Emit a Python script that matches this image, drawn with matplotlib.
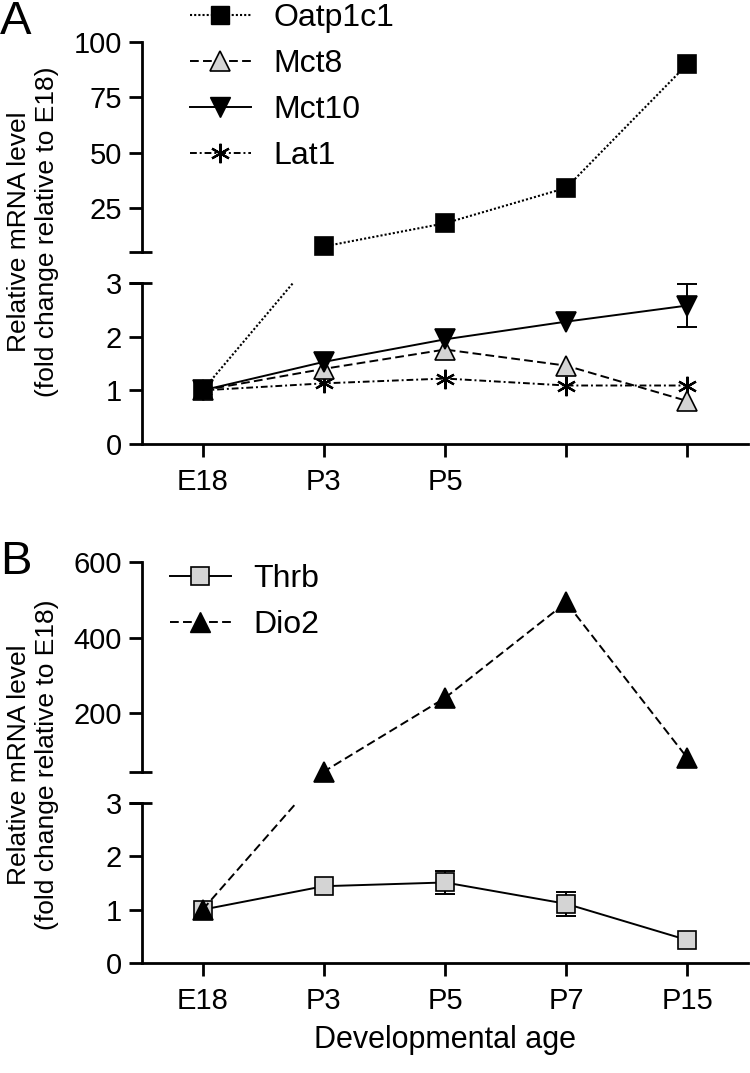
import numpy as np
import matplotlib.pyplot as plt
from matplotlib.lines import Line2D

plt.rcParams['font.family'] = ['Liberation Sans', 'DejaVu Sans']

# developmental ages
ages = ['E18', 'P3', 'P5', 'P7', 'P15']
ages_a = ['E18', 'P3', 'P5', '', '']

# panel A - transporters (fold change relative to E18)
oatp1c1 = [1.0, 7.5, 18.0, 34.0, 90.0]
mct8 = [1.0, 1.40, 1.76, 1.46, 0.80]
mct10 = [1.0, 1.53, 1.95, 2.28, 2.58]
mct10_err = [0, 0, 0, 0, 0.40]
lat1 = [1.0, 1.13, 1.22, 1.09, 1.09]

# panel B
thrb = [1.0, 1.44, 1.51, 1.11, 0.43]
thrb_err = [0, 0, 0.22, 0.23, 0]
dio2 = [1.0, 45.0, 240.0, 493.0, 81.0]

W, H = 750, 1073
fig = plt.figure(figsize=(W / 100, H / 100), dpi=100)


def px_axes(top, bottom, left=142, right=748):
    return fig.add_axes([left / W, 1 - bottom / H, (right - left) / W, (bottom - top) / H])


def style_axes(ax, upper):
    ax.set_xlim(-0.5, 4.5)
    ax.spines['top'].set_visible(False)
    ax.spines['right'].set_visible(False)
    ax.spines['left'].set_linewidth(2)
    ax.tick_params(axis='y', direction='out', length=9.5, width=2, pad=5, labelsize=21)
    if upper:
        ax.spines['bottom'].set_visible(False)
        ax.set_xticks([])
        # cap at the bottom of the upper segment
        ax.plot([-0.022, 0.017], [0, 0], transform=ax.transAxes, color='black', lw=2,
                clip_on=False, solid_capstyle='butt')
    else:
        ax.spines['bottom'].set_linewidth(2)
        ax.tick_params(axis='x', direction='out', length=9.5, width=2, pad=8, labelsize=21)
        ax.set_xticks(range(len(ages)))
        # cap at the top of the lower segment
        ax.plot([-0.022, 0.017], [1, 1], transform=ax.transAxes, color='black', lw=2,
                clip_on=False, solid_capstyle='butt')


def plot_broken(ax_lo, ax_hi, y, ls, marker, mfc, ms, z, lw=1.4, err=None, mew=1.2):
    # line drawn straight across the break (like GraphPad), markers on their own segment
    x = np.arange(len(y), dtype=float)
    y = np.asarray(y, dtype=float)
    in_lo = y <= ax_lo.get_ylim()[1]
    pts = np.column_stack([x, y])
    disp = np.where(in_lo[:, None], ax_lo.transData.transform(pts), ax_hi.transData.transform(pts))
    for ax, mask in ((ax_lo, in_lo), (ax_hi, ~in_lo)):
        yy = ax.transData.inverted().transform(disp)[:, 1]
        ax.plot(x, yy, ls=ls, color='black', lw=lw, zorder=z)
        if err is not None and ax is ax_lo:
            e = np.asarray(err, dtype=float)
            m = mask & (e > 0)
            ax.errorbar(x[m], y[m], yerr=e[m], fmt='none', ecolor='black', elinewidth=1.4,
                        capsize=7, capthick=1.4, zorder=z - 0.2)
        ax.plot(x[mask], y[mask], ls='none', marker=marker, mfc=mfc, mec='black', ms=ms,
                mew=mew, clip_on=False, zorder=z + 0.5)


grey = '#d4d4d4'
dotted = (0, (1, 1))
dashed = (0, (4.5, 2.2))
dashdot = (0, (3.5, 1.5, 1, 1.5))

# ---------------- panel A ----------------
a_hi = px_axes(42, 252)
a_lo = px_axes(283, 444)
a_hi.set_ylim(5, 100)
a_hi.set_yticks([25, 50, 75, 100])
a_lo.set_ylim(0, 3)
a_lo.set_yticks([0, 1, 2, 3])
style_axes(a_hi, True)
style_axes(a_lo, False)
a_lo.set_xticklabels(ages_a)

plot_broken(a_lo, a_hi, lat1, dashdot, (6, 2, 0), 'black', 14, 3, mew=1.6)
plot_broken(a_lo, a_hi, mct8, dashed, '^', grey, 14, 4)
plot_broken(a_lo, a_hi, mct10, '-', 'v', 'black', 14, 5, err=mct10_err)
plot_broken(a_lo, a_hi, oatp1c1, dotted, 's', 'black', 13.5, 6, lw=1.5)

handles_a = [
    Line2D([], [], color='black', ls=dotted, lw=1.5, marker='s', mfc='black', mec='black', ms=13.5),
    Line2D([], [], color='black', ls=dashed, lw=1.4, marker='^', mfc=grey, mec='black', ms=14, mew=1.2),
    Line2D([], [], color='black', ls='-', lw=1.4, marker='v', mfc='black', mec='black', ms=14),
    Line2D([], [], color='black', ls=dashdot, lw=1.4, marker=(6, 2, 0), mec='black', ms=14, mew=1.6),
]
fig.legend(handles_a, ['Oatp1c1', 'Mct8', 'Mct10', 'Lat1'], loc='upper left',
           bbox_to_anchor=(190 / W, 1 - 3 / H), frameon=False, fontsize=23, numpoints=1,
           handlelength=1.9, handletextpad=0.7, labelspacing=0.5, borderpad=0,
           borderaxespad=0)

# ---------------- panel B ----------------
b_hi = px_axes(562, 772)
b_lo = px_axes(803, 963)
b_hi.set_ylim(44, 600)
b_hi.set_yticks([200, 400, 600])
b_lo.set_ylim(0, 3)
b_lo.set_yticks([0, 1, 2, 3])
style_axes(b_hi, True)
style_axes(b_lo, False)
b_lo.set_xticklabels(ages)

plot_broken(b_lo, b_hi, thrb, '-', 's', grey, 12.5, 3, err=thrb_err)
plot_broken(b_lo, b_hi, dio2, dashed, '^', 'black', 14, 5)

handles_b = [
    Line2D([], [], color='black', ls='-', lw=1.4, marker='s', mfc=grey, mec='black', ms=12.5, mew=1.2),
    Line2D([], [], color='black', ls=dashed, lw=1.4, marker='^', mfc='black', mec='black', ms=14),
]
fig.legend(handles_b, ['Thrb', 'Dio2'], loc='upper left',
           bbox_to_anchor=(170 / W, 1 - 564 / H), frameon=False, fontsize=23, numpoints=1,
           handlelength=1.9, handletextpad=0.7, labelspacing=0.5, borderpad=0,
           borderaxespad=0)

# ---------------- labels ----------------
fig.text(0.0, 1.0, 'A', ha='left', va='top', fontsize=34)
fig.text(0.0, 1 - 540 / H, 'B', ha='left', va='top', fontsize=34)
for yc in (232, 765):
    fig.text(19 / W, 1 - yc / H, 'Relative mRNA level', rotation=90, ha='center', va='center', fontsize=19)
    fig.text(47 / W, 1 - yc / H, '(fold change relative to E18)', rotation=90, ha='center',
             va='center', fontsize=19)
fig.text(445 / W, 1 - 1040 / H, 'Developmental age', ha='center', va='center', fontsize=22)

fig.savefig('out.png', dpi=100)
